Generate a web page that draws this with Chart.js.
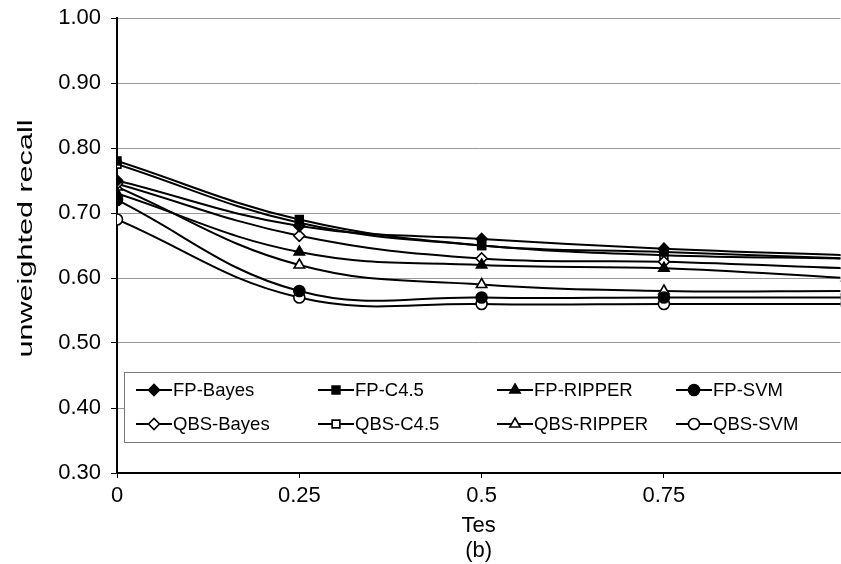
<!DOCTYPE html>
<html>
<head>
<meta charset="utf-8">
<script src="https://cdn.jsdelivr.net/npm/chart.js@4/dist/chart.umd.min.js"></script>
<style>
  html, body { margin: 0; padding: 0; background: #fff; overflow: hidden; }
  #wrap { width: 841px; height: 564px; position: relative; overflow: hidden; }
</style>
</head>
<body>
<div id="wrap"><canvas id="c" width="848" height="564"></canvas></div>
<script>
// Tes values on the x axis
const tesValues = [0, 0.25, 0.5, 0.75, 1];
const xTickLabels = [0, 0.25, 0.5, 0.75];

// unweighted recall per method
const fpBayes    = [0.750, 0.680, 0.660, 0.645, 0.635];
const fpC45      = [0.780, 0.690, 0.650, 0.640, 0.630];
const fpRipper   = [0.730, 0.640, 0.620, 0.615, 0.600];
const fpSvm      = [0.720, 0.580, 0.570, 0.570, 0.570];
const qbsBayes   = [0.745, 0.665, 0.630, 0.625, 0.615];
const qbsC45     = [0.775, 0.685, 0.650, 0.635, 0.630];
const qbsRipper  = [0.740, 0.620, 0.590, 0.580, 0.580];
const qbsSvm     = [0.690, 0.570, 0.560, 0.560, 0.560];

const seriesNames = ['FP-Bayes', 'FP-C4.5', 'FP-RIPPER', 'FP-SVM',
                     'QBS-Bayes', 'QBS-C4.5', 'QBS-RIPPER', 'QBS-SVM'];
const seriesValues = [fpBayes, fpC45, fpRipper, fpSvm, qbsBayes, qbsC45, qbsRipper, qbsSvm];
const markerStyles = ['rectRot', 'rect', 'triangle', 'circle', 'rectRot', 'rect', 'triangle', 'circle'];
const markerFilled = [true, true, true, true, false, false, false, false];

const FONT = '"Liberation Sans", Arial, sans-serif';
const Y_TITLE = 'unweighted recall';

const datasets = seriesNames.map((name, i) => ({
  label: name,
  data: tesValues.map((x, j) => ({ x: x, y: seriesValues[i][j] })),
  borderColor: '#000',
  borderWidth: 2,
  tension: 0.4,
  pointStyle: markerStyles[i],
  pointRadius: markerStyles[i] === 'triangle' ? 6 : 5.5,
  pointBorderWidth: 1.6,
  pointBorderColor: '#000',
  pointBackgroundColor: markerFilled[i] ? '#000' : '#fff',
  fill: false
}));

// Legend box drawn inside the plot area
const insideLegend = {
  id: 'insideLegend',
  afterDatasetsDraw(chart) {
    const ctx = chart.ctx;
    const area = chart.chartArea;
    const boxL = area.left + 7, boxT = 372, boxR = area.right + 2, boxB = 442;
    ctx.save();
    ctx.fillStyle = '#fff';
    ctx.fillRect(boxL, boxT, boxR - boxL, boxB - boxT);
    ctx.strokeStyle = '#777';
    ctx.lineWidth = 1;
    ctx.strokeRect(boxL + 0.5, boxT + 0.5, boxR - boxL, boxB - boxT);
    const colX = [136, 318, 497, 676];
    const rowY = [390, 424];
    ctx.font = '18.5px ' + FONT;
    ctx.textBaseline = 'middle';
    ctx.textAlign = 'left';
    seriesNames.forEach((name, i) => {
      const cx = colX[i % 4];
      const cy = rowY[Math.floor(i / 4)];
      ctx.strokeStyle = '#000';
      ctx.lineWidth = 2;
      ctx.beginPath();
      ctx.moveTo(cx, cy);
      ctx.lineTo(cx + 36, cy);
      ctx.stroke();
      ctx.fillStyle = markerFilled[i] ? '#000' : '#fff';
      ctx.lineWidth = 1.6;
      Chart.helpers.drawPoint(ctx, {
        pointStyle: markerStyles[i],
        radius: markerStyles[i] === 'triangle' ? 6 : 5.5,
        rotation: 0,
        borderWidth: 1.6
      }, cx + 18, cy);
      ctx.fillStyle = '#000';
      ctx.fillText(name, cx + 37, cy + 1);
    });
    ctx.restore();
  }
};

// Vertical axis title, drawn along the left margin
const yTitle = {
  id: 'yTitle',
  afterDraw(chart) {
    const ctx = chart.ctx;
    const area = chart.chartArea;
    const cy = (area.top + area.bottom) / 2 - 7;
    ctx.save();
    ctx.translate(26, cy);
    ctx.rotate(-Math.PI / 2);
    ctx.font = '21px ' + FONT;
    const w = ctx.measureText(Y_TITLE).width;
    const target = 238;
    ctx.scale(target / w, 1);
    ctx.fillStyle = '#000';
    ctx.textAlign = 'center';
    ctx.textBaseline = 'middle';
    ctx.fillText(Y_TITLE, 0, 0);
    ctx.restore();
  }
};

new Chart(document.getElementById('c'), {
  type: 'line',
  data: { datasets: datasets },
  plugins: [insideLegend, yTitle],
  options: {
    responsive: false,
    animation: false,
    layout: { padding: { top: 18, right: 0, left: 0, bottom: 0 } },
    plugins: {
      legend: { display: false },
      tooltip: { enabled: false }
    },
    scales: {
      x: {
        type: 'linear',
        min: 0,
        max: 0.992,
        afterBuildTicks(scale) {
          scale.ticks = xTickLabels.map(v => ({ value: v }));
        },
        afterFit(scale) {
          scale.height = 91;
          scale.paddingLeft = 0;
          scale.paddingRight = 0;
        },
        border: { display: true, color: '#000', width: 2 },
        grid: { display: true, drawOnChartArea: false, drawTicks: true, tickLength: 5, color: '#000' },
        ticks: {
          color: '#000',
          font: { family: FONT, size: 22 },
          padding: 5,
          maxRotation: 0,
          callback: v => String(v)
        },
        title: {
          display: true,
          text: ['Tes', '(b)'],
          color: '#000',
          font: { family: FONT, size: 22, lineHeight: 1.15 },
          padding: { top: 0, bottom: 0 }
        }
      },
      y: {
        min: 0.3,
        max: 1.0,
        afterFit(scale) {
          scale.width = 117;
          scale.paddingTop = 0;
          scale.paddingBottom = 0;
        },
        border: { display: true, color: '#000', width: 2 },
        grid: { color: '#999', lineWidth: 1, drawTicks: true, tickLength: 6, tickColor: '#000' },
        ticks: {
          stepSize: 0.1,
          color: '#000',
          font: { family: FONT, size: 22 },
          padding: 10,
          callback: v => Number(v).toFixed(2)
        },
        title: { display: false }
      }
    }
  }
});
</script>
</body>
</html>
